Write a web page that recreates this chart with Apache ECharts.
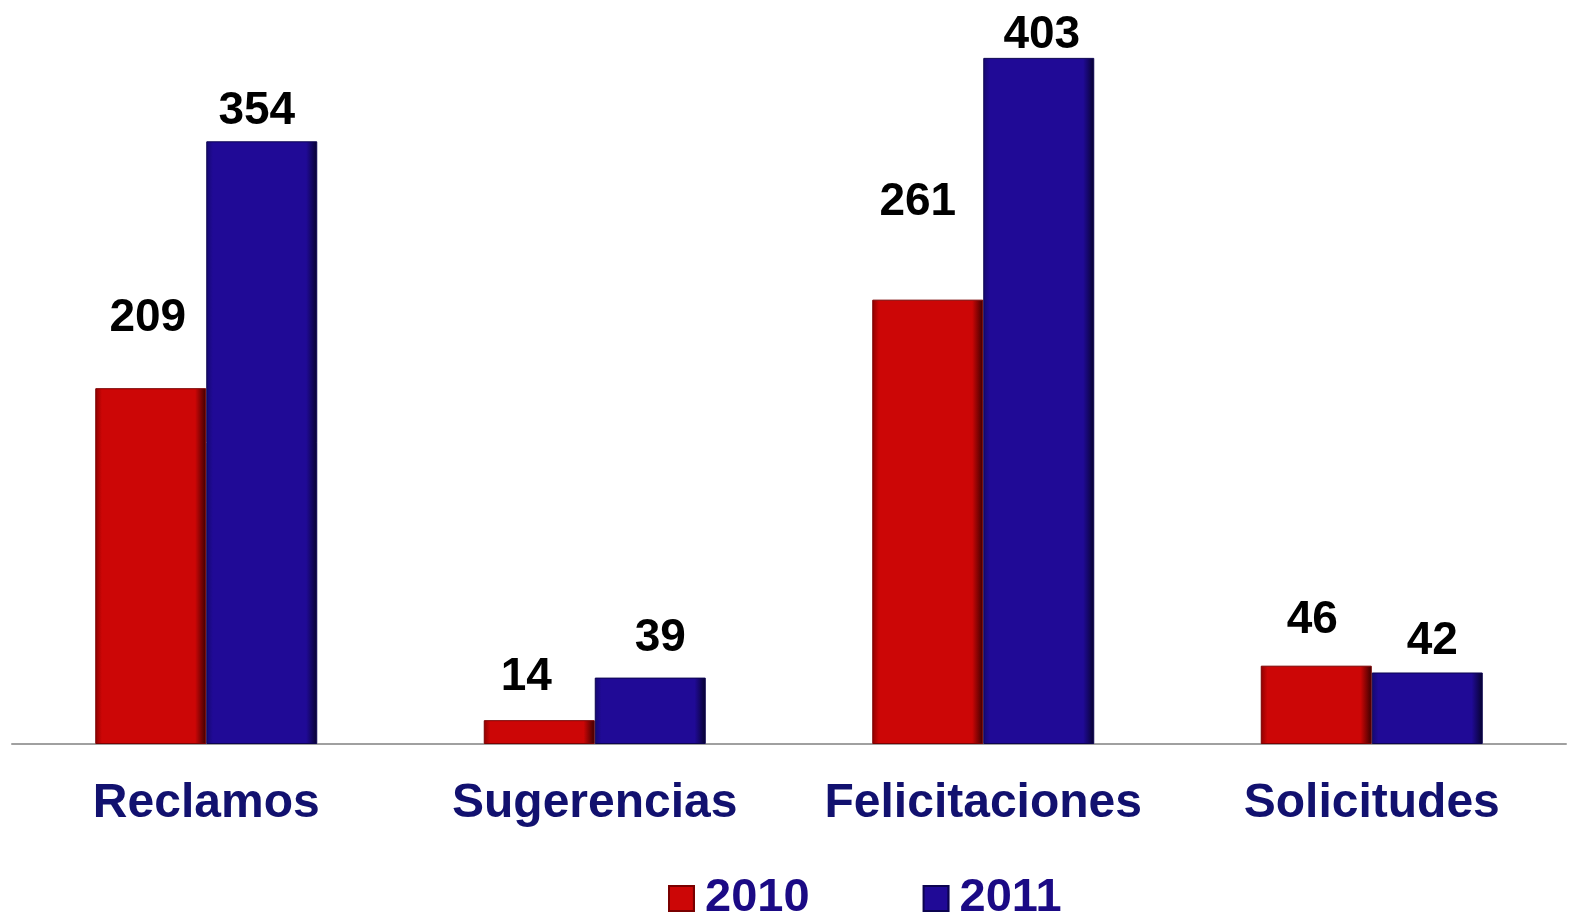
<!DOCTYPE html>
<html>
<head>
<meta charset="utf-8">
<script src="https://cdn.jsdelivr.net/npm/echarts@6/dist/echarts.min.js"></script>
<style>
html,body{margin:0;padding:0;background:#fff;}
#chart{width:1575px;height:923px;}
</style>
</head>
<body>
<div id="chart"></div>
<script>
var categories = ['Reclamos', 'Sugerencias', 'Felicitaciones', 'Solicitudes'];
var seriesNames = ['2010', '2011'];
var values2010 = [209, 14, 261, 46];
var values2011 = [354, 39, 403, 42];

// label placement (layout only)
var labelGap2010 = [47, 20, 74, 22];
var labelGap2011 = [7, 16, 0, 8];
var labelDX2010 = [-3, -13, -10, -4];
var labelDX2011 = [-5, 10, 3, 5];

var FONT = '"Liberation Sans", Arial, sans-serif';

function grad(edgeL, main, edgeR) {
  return new echarts.graphic.LinearGradient(0, 0, 1, 0, [
    {offset: 0, color: edgeL},
    {offset: 0.06, color: main},
    {offset: 0.9, color: main},
    {offset: 1, color: edgeR}
  ]);
}
var red = grad('#8e0000', '#cc0606', '#3a0000');
var blue = grad('#150870', '#200a96', '#06022e');

function items(vals, gaps, dx) {
  return vals.map(function (v, i) {
    return {value: v, label: {distance: gaps[i], offset: [dx[i], 0]}};
  });
}

var chart = echarts.init(document.getElementById('chart'));
chart.setOption({
  animation: false,
  backgroundColor: '#ffffff',
  grid: {left: 12, right: 9, top: 0, bottom: 179, containLabel: false},
  xAxis: {
    type: 'category',
    data: categories,
    axisLine: {show: true, lineStyle: {color: '#a0a0a0', width: 2}},
    axisTick: {show: false},
    axisLabel: {
      margin: 36,
      color: '#12116f',
      fontFamily: FONT,
      fontWeight: 'bold',
      fontSize: 48,
      interval: 0
    }
  },
  yAxis: {
    type: 'value',
    min: 0,
    max: 437,
    show: false,
    splitLine: {show: false}
  },
  legend: {
    data: seriesNames,
    left: 663,
    top: 870,
    itemWidth: 25,
    itemHeight: 25,
    itemGap: 113,
    icon: 'rect',
    textStyle: {color: '#1b0a85', fontFamily: FONT, fontWeight: 'bold', fontSize: 47, padding: [0,0,0,6]}
  },
  series: [
    {
      name: seriesNames[0],
      type: 'bar',
      barWidth: 111,
      barGap: '0%',
      data: items(values2010, labelGap2010, labelDX2010),
      itemStyle: {color: red, borderColor: '#7a0000', borderWidth: 1},
      label: {show: true, position: 'top', color: '#000', fontFamily: FONT, fontWeight: 'bold', fontSize: 46}
    },
    {
      name: seriesNames[1],
      type: 'bar',
      barWidth: 111,
      barGap: '0%',
      data: items(values2011, labelGap2011, labelDX2011),
      itemStyle: {color: blue, borderColor: '#0c0450', borderWidth: 1},
      label: {show: true, position: 'top', color: '#000', fontFamily: FONT, fontWeight: 'bold', fontSize: 46}
    }
  ]
});
</script>
</body>
</html>
